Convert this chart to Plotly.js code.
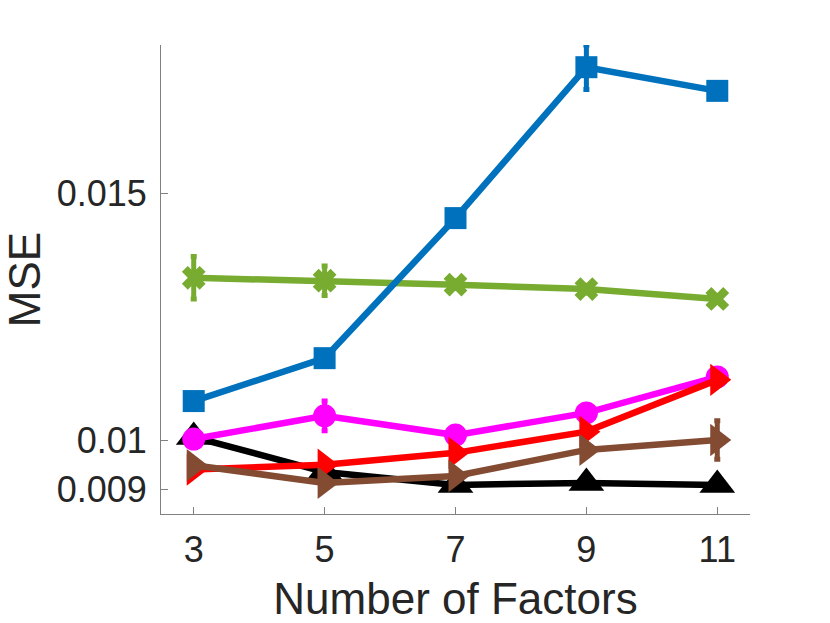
<!DOCTYPE html>
<html>
<head>
<meta charset="utf-8">
<script src="https://cdn.plot.ly/plotly-3.0.1.min.js"></script>
<style>
  html, body { margin: 0; padding: 0; background: #fff; }
  #chart { width: 830px; height: 623px; }
</style>
</head>
<body>
<div id="chart"></div>
<script>
// number of factors on the x axis
const factors = [3, 5, 7, 9, 11];

// MSE per method, with error bar half-heights
const mseBlue = [0.01079, 0.01166, 0.01450, 0.01756, 0.01708];
const errBlue = [0.00006, 0.00006, 0.00012, 0.00045, 0.00010];

const mseGreen = [0.01329, 0.01323, 0.01315, 0.01306, 0.01286];
const errGreen = [0.00043, 0.00030, 0.00008, 0.00008, 0.00005];

const mseMagenta = [0.01002, 0.01049, 0.01010, 0.01055, 0.01128];
const errMagenta = [0.00005, 0.00030, 0.00008, 0.00008, 0.00008];

const mseRed = [0.00940, 0.00950, 0.00974, 0.01017, 0.01122];
const errRed = [0.00005, 0.00005, 0.00005, 0.00008, 0.00008];

const mseBrown = [0.00949, 0.00913, 0.00927, 0.00980, 0.01000];
const errBrown = [0.00010, 0.00005, 0.00005, 0.00008, 0.00039];

const mseBlack = [0.01006, 0.00935, 0.00909, 0.00913, 0.00909];
const errBlack = [0.00005, 0.00005, 0.00005, 0.00005, 0.00005];

const yTickVals = [0.009, 0.01, 0.015];
const yTickText = ['0.009', '0.01', '0.015'];

function series(y, err, color, symbol, size) {
    return {
        x: factors,
        y: y,
        type: 'scatter',
        mode: 'lines+markers',
        line: { color: color, width: 6.5 },
        marker: { color: color, symbol: symbol, size: size, line: { width: 0 } },
        error_y: { type: 'data', array: err, visible: true, color: color, thickness: 5, width: 3 },
        showlegend: false,
        hoverinfo: 'skip'
    };
}

// drawing order: later traces sit on top
const traces = [
    series(mseBlack, errBlack, '#000000', 'triangle-up', 31),
    series(mseMagenta, errMagenta, '#FF00FF', 'circle', 23),
    series(mseRed, errRed, '#FF0000', 'triangle-right', 28),
    series(mseBrown, errBrown, '#834B32', 'triangle-right', 28),
    series(mseGreen, errGreen, '#77AC30', 'x', 21),
    series(mseBlue, errBlue, '#0072BD', 'square', 22)
];

const axisFont = { family: 'Liberation Sans, Arial, sans-serif', size: 36, color: '#262626' };
const titleFont = { family: 'Liberation Sans, Arial, sans-serif', size: 44, color: '#262626' };

const layout = {
    width: 830,
    height: 623,
    paper_bgcolor: '#ffffff',
    plot_bgcolor: '#ffffff',
    margin: { l: 161, r: 80, t: 45, b: 109 },
    xaxis: {
        range: [2.5, 11.5],
        tickvals: factors,
        ticktext: factors.map(String),
        ticks: 'inside',
        ticklen: 7,
        tickwidth: 1,
        tickcolor: '#808080',
        showline: true,
        linecolor: '#808080',
        linewidth: 1,
        showgrid: false,
        zeroline: false,
        tickfont: axisFont,
        ticklabelstandoff: 4,
        title: { text: 'Number of Factors', font: titleFont, standoff: 14 }
    },
    yaxis: {
        range: [0.0085, 0.01801],
        tickvals: yTickVals,
        ticktext: yTickText,
        ticks: 'inside',
        ticklen: 7,
        tickwidth: 1,
        tickcolor: '#808080',
        showline: true,
        linecolor: '#808080',
        linewidth: 1,
        showgrid: false,
        zeroline: false,
        tickfont: axisFont,
        ticklabelstandoff: 6,
        title: { text: 'MSE', font: titleFont, standoff: 14 }
    }
};

Plotly.newPlot('chart', traces, layout, { displayModeBar: false, staticPlot: true });
</script>
</body>
</html>
